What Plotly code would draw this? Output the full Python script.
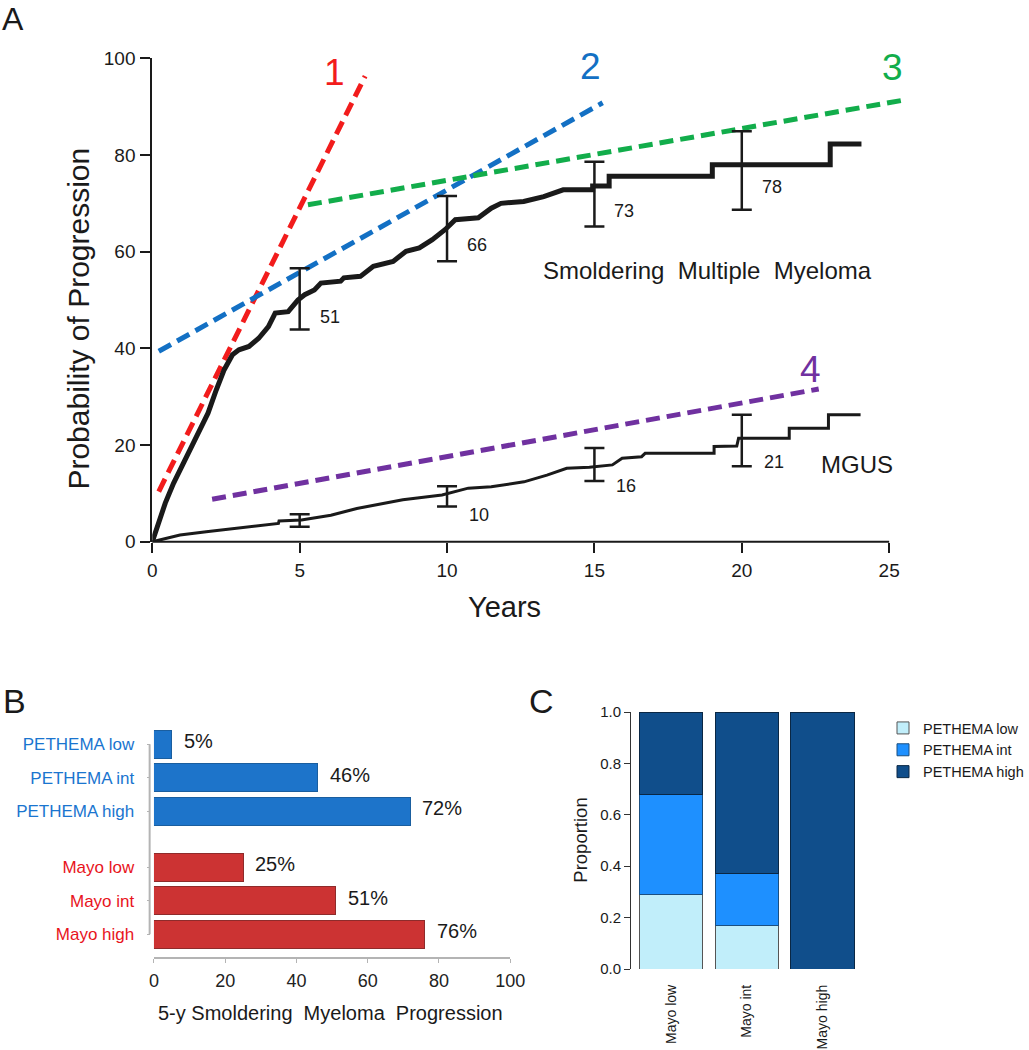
import plotly.graph_objects as go

W, H = 1029, 1050
FONT = "Liberation Sans, Arial, sans-serif"
INK = "#1a1a1a"

# ---------------- panel A: cumulative probability of progression ----------------
smm_x = [0, 0.15, 0.33, 0.44, 0.72, 0.94, 1.28, 1.61, 1.89, 2.17, 2.44, 2.72, 2.94,
         3.28, 3.61, 3.94, 4.17, 4.61, 4.94, 5.17, 5.5, 5.72, 6.39, 6.5, 7.06, 7.5,
         8.17, 8.61, 9.06, 9.5, 9.94, 10.28, 11.06, 11.5, 11.83, 12.6, 13.28, 13.94,
         14.94, 14.94, 15.5, 15.5, 19.0, 19.0, 23.0, 23.0, 24.06]
smm_y = [0, 3.0, 5.9, 8.0, 12.1, 14.9, 19.0, 23.1, 26.6, 31.4, 35.6, 38.7, 39.7,
         40.4, 42.1, 44.5, 47.3, 47.6, 50.0, 51.1, 52.1, 53.5, 53.9, 54.6, 54.9, 57.0,
         58.0, 60.1, 60.8, 62.5, 64.6, 66.6, 67.0, 69.0, 70.0, 70.4, 71.4, 72.8,
         72.8, 73.6, 73.6, 75.6, 75.6, 78.0, 78.0, 82.3, 82.3]

mgus_x = [0, 0.94, 1.83, 3.17, 4.28, 4.3, 5.06, 6.06, 6.94, 8.5, 9.83, 10.72, 11.5,
          12.61, 13.39, 14.06, 14.83, 15.61, 15.94, 16.6, 16.72, 19.06, 19.06, 19.83,
          19.89, 21.61, 21.61, 22.94, 22.94, 24.03]
mgus_y = [0, 1.4, 2.1, 3.1, 3.8, 4.3, 4.5, 5.5, 6.9, 8.7, 9.7, 11.1, 11.4,
          12.4, 13.8, 15.2, 15.4, 15.9, 17.3, 17.6, 18.3, 18.3, 19.7, 19.8,
          21.4, 21.4, 23.5, 23.5, 26.3, 26.3]

ci_years = [5, 10, 15, 20]
smm_est = [51, 66, 73, 78]
smm_lo = [43.9, 58.0, 65.2, 68.7]
smm_hi = [56.6, 71.5, 78.6, 84.9]
mgus_est = [4.4, 10, 16, 21]
mgus_lo = [3.1, 7.3, 12.6, 15.6]
mgus_hi = [5.7, 11.5, 19.4, 26.3]
mgus_labelled = [False, True, True, True]

trend_names = ["1", "2", "3", "4"]
trend_x0 = [0.22, 0.22, 5.28, 2.03]
trend_y0 = [10.4, 39.4, 69.7, 8.8]
trend_x1 = [7.22, 15.28, 25.44, 22.61]
trend_y1 = [96.3, 90.8, 91.3, 31.6]
trend_label_x = [6.17, 14.87, 25.13, 22.33]
trend_label_y = [97.0, 98.3, 98.1, 35.6]
trend_colors = ["#F21C1C", "#1370C4", "#12AD4B", "#7031A0"]

# ---------------- panel B: 5-y progression by risk group ----------------
b_labels = ["PETHEMA low", "PETHEMA int", "PETHEMA high", "Mayo low", "Mayo int", "Mayo high"]
b_values = [5, 46, 72, 25, 51, 76]
b_groups = ["PETHEMA", "PETHEMA", "PETHEMA", "Mayo", "Mayo", "Mayo"]

# ---------------- panel C: PETHEMA composition of Mayo groups ----------------
c_cats = ["Mayo low", "Mayo int", "Mayo high"]
c_low = [0.29, 0.17, 0.0]
c_int = [0.39, 0.20, 0.0]
c_high = [0.32, 0.63, 1.0]


def xp(px):
    return px / W


def yp(py):
    return 1 - py / H


def to_paper(v, rng, dom):
    return dom[0] + (v - rng[0]) / (rng[1] - rng[0]) * (dom[1] - dom[0])


fig = go.Figure()

# --- A
xA_rng, xA_dom = [0, 25.6], [xp(155), xp(923)]
yA_rng, yA_dom = [0, 100], [yp(541.8), yp(58.3)]

for i, name in enumerate(trend_names):
    fig.add_trace(go.Scatter(
        x=[trend_x0[i], trend_x1[i]], y=[trend_y0[i], trend_y1[i]], mode="lines",
        line=dict(color=trend_colors[i], width=5, dash="14px,7px"),
        xaxis="x", yaxis="y", showlegend=False, hoverinfo="skip",
    ))

fig.add_trace(go.Scatter(x=mgus_x, y=mgus_y, mode="lines", line=dict(color=INK, width=3),
                         xaxis="x", yaxis="y", showlegend=False, name="MGUS"))
fig.add_trace(go.Scatter(x=smm_x, y=smm_y, mode="lines", line=dict(color=INK, width=5),
                         xaxis="x", yaxis="y", showlegend=False, name="SMM"))

for est, lo, hi in [(smm_est, smm_lo, smm_hi), (mgus_est, mgus_lo, mgus_hi)]:
    fig.add_trace(go.Scatter(
        x=ci_years, y=est, mode="markers",
        marker=dict(size=1, color="rgba(0,0,0,0)"),
        error_y=dict(type="data", symmetric=False,
                     array=[h - e for h, e in zip(hi, est)],
                     arrayminus=[e - l for e, l in zip(est, lo)],
                     color=INK, thickness=2.5, width=10),
        xaxis="x", yaxis="y", showlegend=False, hoverinfo="skip",
    ))

# --- B
b_pos = [i + (0.68 if g == "Mayo" else 0) for i, g in enumerate(b_groups)]
b_colors = {"PETHEMA": "#1D74CA", "Mayo": "#CC3333"}
b_edges = {"PETHEMA": "#1A5E9F", "Mayo": "#8E2B2B"}
b_text_colors = {"PETHEMA": "#1A75CF", "Mayo": "#E8141C"}
xB_rng, xB_dom = [0, 100], [xp(156.7), xp(519.3)]
yB_rng, yB_dom = [6.37, -0.6], [yp(957.3), yp(724.2)]
b_axis_px = 152.3

for grp in ["PETHEMA", "Mayo"]:
    idx = [i for i, g in enumerate(b_groups) if g == grp]
    fig.add_trace(go.Bar(
        x=[b_values[i] for i in idx], y=[b_pos[i] for i in idx], orientation="h",
        width=0.84, marker=dict(color=b_colors[grp], line=dict(color=b_edges[grp], width=1)),
        xaxis="x2", yaxis="y2", showlegend=False,
    ))

# --- C
c_colors = ["#C1EEFA", "#1E90FF", "#104E8B"]
c_edges = ["#555555", "#1B4F80", "#0A2744"]
for vals, nm, col, edge in zip([c_low, c_int, c_high],
                               ["PETHEMA low", "PETHEMA int", "PETHEMA high"],
                               c_colors, c_edges):
    fig.add_trace(go.Bar(
        x=c_cats, y=vals, name=nm, width=0.835,
        marker=dict(color=col, line=dict(color=edge, width=1)),
        xaxis="x3", yaxis="y3",
    ))
xC_rng, xC_dom = [-0.53, 2.53], [xp(642.3), xp(878)]
yC_rng, yC_dom = [0, 1], [yp(969), yp(712)]

ann = []


def add_text(text, x, y, size, color=INK, xref="paper", yref="paper",
             xanchor="center", yanchor="middle", **kw):
    ann.append(dict(text=text, x=x, y=y, xref=xref, yref=yref, showarrow=False,
                    xanchor=xanchor, yanchor=yanchor,
                    font=dict(size=size, color=color, family=FONT), **kw))


# panel letters
add_text("A", xp(0), yp(19), 32, xanchor="left")
add_text("B", xp(1), yp(701), 34, xanchor="left")
add_text("C", xp(536), yp(701), 34, xanchor="left")

# A texts
add_text("Probability of Progression", xp(80), yp(319), 30, textangle=-90)
add_text("Years", xp(513), yp(607), 29)
for i, name in enumerate(trend_names):
    add_text(name, trend_label_x[i], trend_label_y[i], 37, color=trend_colors[i],
             xref="x", yref="y")
for x, e in zip(ci_years, smm_est):
    add_text(str(e), x, e, 18, xref="x", yref="y", xshift=30, yshift=-22)
for x, e, show in zip(ci_years, mgus_est, mgus_labelled):
    if show:
        add_text(str(e), x, e, 18, xref="x", yref="y", xshift=32, yshift=-22)
add_text("Smoldering  Multiple  Myeloma", 18.83, 56.2, 24, xref="x", yref="y")
add_text("MGUS", 23.9, 15.9, 24, xref="x", yref="y")

# B texts
for v, p in zip(b_values, b_pos):
    add_text(f"{v}%", v, p, 20, xref="x2", yref="y2", xanchor="left", xshift=10, yshift=3)
add_text("5-y Smoldering  Myeloma  Progression", xp(336), yp(1013), 20)

# C texts
add_text("Proportion", xp(590), yp(840), 18.5, textangle=-90)

shapes = [
    # A x axis line, 0..25 only
    dict(type="line", xref="paper", yref="paper",
         x0=to_paper(0, xA_rng, xA_dom), x1=to_paper(25, xA_rng, xA_dom),
         y0=yA_dom[0], y1=yA_dom[0], line=dict(color=INK, width=2)),
    # B y axis line spanning the bar centres
    dict(type="line", xref="paper", yref="paper", x0=xp(b_axis_px), x1=xp(b_axis_px),
         y0=to_paper(b_pos[0], yB_rng, yB_dom), y1=to_paper(b_pos[-1], yB_rng, yB_dom),
         line=dict(color="#b4b4b4", width=2)),
]

b_ticktext = [f'<span style="color:{b_text_colors[g]}">{t}</span>'
              for t, g in zip(b_labels, b_groups)]

fig.update_layout(
    width=W, height=H,
    margin=dict(l=0, r=0, t=0, b=0),
    paper_bgcolor="white", plot_bgcolor="rgba(0,0,0,0)",
    font=dict(family=FONT, color=INK),
    barmode="stack",
    annotations=ann, shapes=shapes,
    xaxis=dict(domain=xA_dom, range=xA_rng, anchor="y", showline=False, showgrid=False,
               zeroline=False, ticks="outside", ticklen=10, tickwidth=2, tickcolor=INK,
               tickvals=[0, 5, 10, 15, 20, 25], tickfont=dict(size=19),
               ticklabelstandoff=1, automargin=False),
    yaxis=dict(domain=yA_dom, range=yA_rng, anchor="x", showline=True, linewidth=2,
               linecolor=INK, showgrid=False, zeroline=False, ticks="outside",
               ticklen=10, tickwidth=2, tickcolor=INK, tickvals=[0, 20, 40, 60, 80, 100],
               tickfont=dict(size=19), ticklabelstandoff=1, automargin=False),
    xaxis2=dict(domain=xB_dom, range=xB_rng, anchor="y2", showline=True, linewidth=1.5,
                linecolor="#b4b4b4", showgrid=False, zeroline=False, ticks="outside",
                ticklen=4, tickcolor="#b4b4b4", tickvals=[0, 20, 40, 60, 80, 100],
                tickfont=dict(size=18, color="#222"), ticklabelstandoff=2,
                automargin=False),
    yaxis2=dict(domain=yB_dom, range=yB_rng, anchor="free", position=xp(b_axis_px),
                showline=False, showgrid=False, zeroline=False, ticks="outside",
                ticklen=3, tickcolor="#b4b4b4", tickvals=b_pos, ticktext=b_ticktext,
                tickfont=dict(size=17), ticklabelstandoff=9, automargin=False),
    xaxis3=dict(domain=xC_dom, range=xC_rng, anchor="y3", showline=False, showgrid=False,
                zeroline=False, ticks="", tickangle=-90, tickfont=dict(size=14),
                ticklabelstandoff=12, automargin=False),
    yaxis3=dict(domain=yC_dom, range=yC_rng, anchor="x3", showline=True, linewidth=1,
                linecolor="#333", showgrid=False, zeroline=False, ticks="outside",
                ticklen=6, tickcolor="#333", tickvals=[0, 0.2, 0.4, 0.6, 0.8, 1.0],
                tickformat=".1f", tickfont=dict(size=15), ticklabelstandoff=0,
                automargin=False),
    legend=dict(x=xp(899), y=yp(712), xanchor="left", yanchor="top",
                traceorder="normal", font=dict(size=14.5), bgcolor="rgba(0,0,0,0)",
                itemwidth=30),
    showlegend=True,
)

# the page's default 8px body margin would shift and crop the figure
fig.write_html("out.html", config={"displayModeBar": False},
               post_script="document.body.style.margin='0';document.body.style.overflow='hidden';")
